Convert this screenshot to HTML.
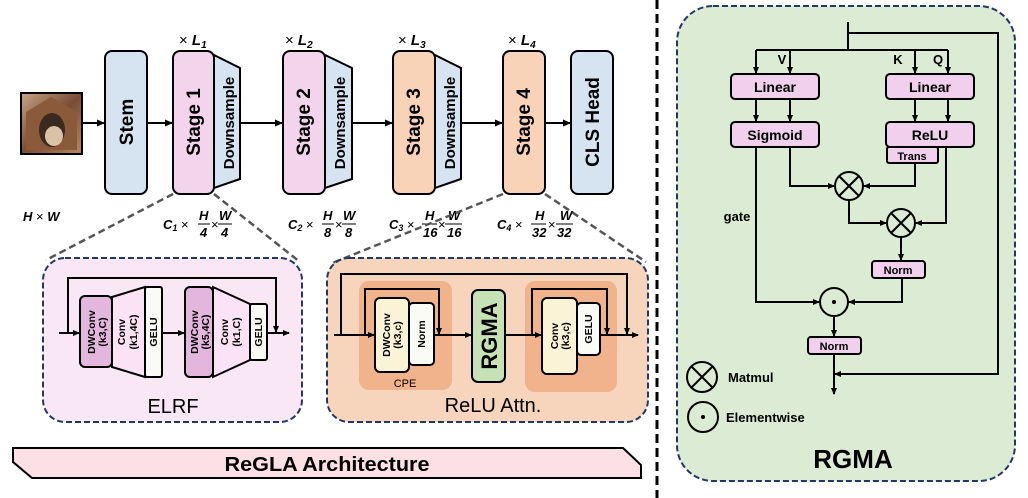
<!DOCTYPE html>
<html><head><meta charset="utf-8"><style>
body{margin:0;background:#fff}
svg{display:block}
text{font-family:"Liberation Sans",sans-serif}
.b{font-weight:bold}
.m{font-family:"Liberation Serif",serif;font-weight:bold;font-style:italic}
</style></head><body>
<svg width="1028" height="498" viewBox="0 0 1028 498" xmlns="http://www.w3.org/2000/svg">
<defs>
<marker id="a" markerWidth="8" markerHeight="8" refX="7" refY="4" orient="auto" markerUnits="userSpaceOnUse">
<path d="M0,0.5 L8,4 L0,7.5 z" fill="#000"/></marker>
<marker id="s" markerWidth="7" markerHeight="7" refX="6" refY="3.5" orient="auto" markerUnits="userSpaceOnUse">
<path d="M0,0.5 L7,3.5 L0,6.5 z" fill="#000"/></marker>
<linearGradient id="img" x1="0" y1="0" x2="1" y2="1">
<stop offset="0" stop-color="#c7a58a"/><stop offset="0.5" stop-color="#7a4c33"/><stop offset="1" stop-color="#b78a5e"/></linearGradient>
</defs>

<line x1="657" y1="0" x2="657" y2="498" stroke="#000" stroke-width="3" stroke-dasharray="9,5"/>

<rect x="21" y="93" width="61" height="61" fill="url(#img)" stroke="#000" stroke-width="2"/>
<path d="M26,112 L51,97 L77,112 L77,150 L26,150 z" fill="#8a5a3a"/>
<ellipse cx="52" cy="130" rx="13" ry="17" fill="#3a2a20"/>
<ellipse cx="54" cy="136" rx="9" ry="10" fill="#d9c2a6"/>

<g stroke="#000" stroke-width="2" fill="none">
<line x1="82" y1="123" x2="104" y2="123" marker-end="url(#a)"/>
<line x1="147" y1="123" x2="172" y2="123" marker-end="url(#a)"/>
<line x1="240" y1="123" x2="282" y2="123" marker-end="url(#a)"/>
<line x1="352" y1="123" x2="392" y2="123" marker-end="url(#a)"/>
<line x1="461" y1="123" x2="502" y2="123" marker-end="url(#a)"/>
<line x1="545" y1="123" x2="570" y2="123" marker-end="url(#a)"/>
</g>

<g stroke="#000" stroke-width="2">
<rect x="105" y="51" width="42" height="143" rx="7" fill="#d6e4f2"/>
<path d="M214,55 L240,68 L240,179 L214,188 z" fill="#d6e4f2"/>
<rect x="173" y="51" width="41" height="143" rx="7" fill="#f2d4ec"/>
<path d="M325,55 L352,68 L352,179 L325,188 z" fill="#d6e4f2"/>
<rect x="283" y="51" width="42" height="143" rx="7" fill="#f2d4ec"/>
<path d="M435,55 L461,68 L461,179 L435,188 z" fill="#d6e4f2"/>
<rect x="393" y="51" width="42" height="143" rx="7" fill="#f8d3b8"/>
<rect x="503" y="51" width="42" height="143" rx="7" fill="#f8d3b8"/>
<rect x="571" y="51" width="42" height="143" rx="7" fill="#d6e4f2"/>
</g>
<g class="b" font-size="19" text-anchor="middle" fill="#000">
<text transform="translate(133,122) rotate(-90)">Stem</text>
<text transform="translate(200,122) rotate(-90)">Stage 1</text>
<text transform="translate(310,122) rotate(-90)">Stage 2</text>
<text transform="translate(420,122) rotate(-90)">Stage 3</text>
<text transform="translate(530,122) rotate(-90)">Stage 4</text>
<text transform="translate(599,122) rotate(-90)">CLS Head</text>
</g>
<g class="b" font-size="15" text-anchor="middle">
<text transform="translate(234,123) rotate(-90)">Downsample</text>
<text transform="translate(345,123) rotate(-90)">Downsample</text>
<text transform="translate(455,123) rotate(-90)">Downsample</text>
</g>
<g class="m" font-size="15" fill="#000">
<text x="179" y="45"><tspan font-style="normal" font-weight="normal">×</tspan> L<tspan font-size="10" dy="3">1</tspan></text>
<text x="285" y="45"><tspan font-style="normal" font-weight="normal">×</tspan> L<tspan font-size="10" dy="3">2</tspan></text>
<text x="398" y="45"><tspan font-style="normal" font-weight="normal">×</tspan> L<tspan font-size="10" dy="3">3</tspan></text>
<text x="508" y="45"><tspan font-style="normal" font-weight="normal">×</tspan> L<tspan font-size="10" dy="3">4</tspan></text>
<text x="23" y="221" font-size="13">H <tspan font-style="normal" font-weight="normal">×</tspan> W</text>
</g>
<g class="m" font-size="13" fill="#000">
<text x="163" y="229">C<tspan font-size="9" dy="2">1</tspan><tspan dy="-2" font-style="normal" font-weight="normal"> × </tspan></text>
<text x="199" y="220">H</text><line x1="198" y1="224" x2="210" y2="224" stroke="#000"/><text x="200" y="237">4</text>
<text x="211" y="229" font-style="normal" font-weight="normal">×</text>
<text x="219" y="220">W</text><line x1="218" y1="224" x2="232" y2="224" stroke="#000"/><text x="221" y="237">4</text>

<text x="288" y="229">C<tspan font-size="9" dy="2">2</tspan><tspan dy="-2" font-style="normal" font-weight="normal"> × </tspan></text>
<text x="323" y="220">H</text><line x1="322" y1="224" x2="334" y2="224" stroke="#000"/><text x="324" y="237">8</text>
<text x="335" y="229" font-style="normal" font-weight="normal">×</text>
<text x="343" y="220">W</text><line x1="342" y1="224" x2="356" y2="224" stroke="#000"/><text x="345" y="237">8</text>

<text x="389" y="229">C<tspan font-size="9" dy="2">3</tspan><tspan dy="-2" font-style="normal" font-weight="normal"> × </tspan></text>
<text x="425" y="220">H</text><line x1="422" y1="224" x2="437" y2="224" stroke="#000"/><text x="423" y="237">16</text>
<text x="438" y="229" font-style="normal" font-weight="normal">×</text>
<text x="448" y="220">W</text><line x1="445" y1="224" x2="462" y2="224" stroke="#000"/><text x="447" y="237">16</text>

<text x="497" y="229">C<tspan font-size="9" dy="2">4</tspan><tspan dy="-2" font-style="normal" font-weight="normal"> × </tspan></text>
<text x="535" y="220">H</text><line x1="531" y1="224" x2="546" y2="224" stroke="#000"/><text x="532" y="237">32</text>
<text x="548" y="229" font-style="normal" font-weight="normal">×</text>
<text x="560" y="220">W</text><line x1="556" y1="224" x2="573" y2="224" stroke="#000"/><text x="557" y="237">32</text>
</g>

<g stroke="#555" stroke-width="2.5" stroke-dasharray="7,4">
<line x1="173" y1="194" x2="46" y2="260"/>
<line x1="214" y1="194" x2="300" y2="262"/>
<line x1="503" y1="194" x2="330" y2="264"/>
<line x1="545" y1="194" x2="646" y2="262"/>
</g>

<rect x="43" y="258" width="259" height="164" rx="22" fill="#f9e7f6" stroke="#1f3864" stroke-width="2" stroke-dasharray="6,3"/>
<g stroke="#000" stroke-width="2" fill="none">
<polyline points="68,333 68,278 276,278 276,332" marker-end="url(#s)"/>
<line x1="59" y1="333" x2="79" y2="333" marker-end="url(#s)"/>
<line x1="162" y1="333" x2="184" y2="333" marker-end="url(#s)"/>
<line x1="267" y1="333" x2="289" y2="333" marker-end="url(#s)"/>
</g>
<g stroke="#000" stroke-width="2">
<path d="M112,297 L145,287 L145,377 L112,367 z" fill="#fbe3f5"/>
<rect x="80" y="296" width="32" height="71" rx="5" fill="#e3b6de"/>
<rect x="145" y="287" width="17" height="90" rx="2" fill="#fbfbf5"/>
<path d="M213,287 L250,304 L250,360 L213,377 z" fill="#fbe3f5"/>
<rect x="185" y="287" width="28" height="90" rx="5" fill="#e3b6de"/>
<rect x="250" y="304" width="17" height="56" rx="2" fill="#fbfbf5"/>
</g>
<g class="b" font-size="10.5" text-anchor="middle">
<text transform="translate(95,332) rotate(-90)">DWConv</text>
<text transform="translate(106,332) rotate(-90)">(k3,C)</text>
<text transform="translate(125,332) rotate(-90)">Conv</text>
<text transform="translate(137,332) rotate(-90)">(k1,4C)</text>
<text transform="translate(157,332) rotate(-90)">GELU</text>
<text transform="translate(198,332) rotate(-90)">DWConv</text>
<text transform="translate(209,332) rotate(-90)">(k5,4C)</text>
<text transform="translate(228,332) rotate(-90)">Conv</text>
<text transform="translate(240,332) rotate(-90)">(k1,C)</text>
<text transform="translate(262,332) rotate(-90)">GELU</text>
</g>
<text x="173" y="413" font-size="20" text-anchor="middle">ELRF</text>

<rect x="327" y="258" width="321" height="164" rx="22" fill="#f7d5bc" stroke="#1f3864" stroke-width="2" stroke-dasharray="6,3"/>
<rect x="359" y="281" width="93" height="109" rx="10" fill="#f1b38c"/>
<rect x="525" y="281" width="92" height="111" rx="10" fill="#f1b38c"/>
<g stroke="#000" stroke-width="2" fill="none">
<polyline points="341,335 341,274 627,274 627,334" marker-end="url(#s)"/>
<polyline points="365,335 365,289 439,289 439,334" marker-end="url(#s)"/>
<polyline points="532,335 532,289 607,289 607,334" marker-end="url(#s)"/>
<line x1="334" y1="335" x2="374" y2="335" marker-end="url(#s)"/>
<line x1="434" y1="335" x2="471" y2="335" marker-end="url(#s)"/>
<line x1="505" y1="335" x2="541" y2="335" marker-end="url(#s)"/>
<line x1="600" y1="335" x2="638" y2="335" marker-end="url(#s)"/>
</g>
<g stroke="#000" stroke-width="2">
<rect x="375" y="298" width="34" height="74" rx="5" fill="#fbf3d5"/>
<rect x="409" y="303" width="25" height="62" rx="4" fill="#fbfbf5"/>
<rect x="472" y="290" width="33" height="92" rx="6" fill="#c6e2b5"/>
<rect x="542" y="298" width="35" height="76" rx="5" fill="#fbf3d5"/>
<rect x="577" y="303" width="23" height="52" rx="4" fill="#fbfbf5"/>
</g>
<g class="b" font-size="10.5" text-anchor="middle">
<text transform="translate(390,335) rotate(-90)">DWConv</text>
<text transform="translate(401,335) rotate(-90)">(k3,c)</text>
<text transform="translate(425,334) rotate(-90)">Norm</text>
<text transform="translate(558,336) rotate(-90)">Conv</text>
<text transform="translate(569,336) rotate(-90)">(k3,c)</text>
<text transform="translate(592,329) rotate(-90)">GELU</text>
</g>
<text class="b" transform="translate(497,336) rotate(-90)" font-size="22" text-anchor="middle">RGMA</text>
<text x="405" y="387" font-size="11" text-anchor="middle">CPE</text>
<text x="493" y="412" font-size="20" text-anchor="middle">ReLU Attn.</text>

<path d="M13,448 L623,448 L641,465 L641,478 L32,478 L13,462 z" fill="#fde0e6" stroke="#000" stroke-width="2"/>
<text x="327" y="471" class="b" font-size="20" text-anchor="middle" textLength="205" lengthAdjust="spacingAndGlyphs">ReGLA  Architecture</text>

<rect x="677" y="6" width="338" height="475" rx="36" fill="#dcebd3" stroke="#1f3864" stroke-width="2" stroke-dasharray="6,3"/>
<g stroke="#000" stroke-width="2" fill="none">
<line x1="848" y1="22" x2="848" y2="50"/>
<polyline points="848,33 998,33 998,374 835,374" marker-end="url(#s)"/>
<line x1="756" y1="50" x2="948" y2="50"/>
<line x1="756" y1="50" x2="756" y2="73" marker-end="url(#s)"/>
<line x1="790" y1="50" x2="790" y2="73" marker-end="url(#s)"/>
<line x1="915" y1="50" x2="915" y2="73" marker-end="url(#s)"/>
<line x1="948" y1="50" x2="948" y2="73" marker-end="url(#s)"/>
<line x1="756" y1="99" x2="756" y2="121" marker-end="url(#s)"/>
<line x1="790" y1="99" x2="790" y2="121" marker-end="url(#s)"/>
<line x1="915" y1="99" x2="915" y2="121" marker-end="url(#s)"/>
<line x1="948" y1="99" x2="948" y2="121" marker-end="url(#s)"/>
<polyline points="790,147 790,186 834,186" marker-end="url(#s)"/>
<polyline points="915,163 915,186 864,186" marker-end="url(#s)"/>
<polyline points="849,200 849,223 886,223" marker-end="url(#s)"/>
<polyline points="946,147 946,223 916,223" marker-end="url(#s)"/>
<line x1="901" y1="237" x2="901" y2="260" marker-end="url(#s)"/>
<polyline points="902,278 902,302 849,302" marker-end="url(#s)"/>
<polyline points="756,147 756,302 819,302" marker-end="url(#s)"/>
<line x1="834" y1="316" x2="834" y2="336" marker-end="url(#s)"/>
<line x1="834" y1="354" x2="834" y2="394" marker-end="url(#s)"/>
<circle cx="849" cy="186" r="14" fill="#dcebd3"/>
<path d="M839,176 L859,196 M859,176 L839,196"/>
<circle cx="901" cy="223" r="14" fill="#dcebd3"/>
<path d="M891,213 L911,233 M911,213 L891,233"/>
<circle cx="834" cy="302" r="14" fill="#dcebd3"/>
<circle cx="702" cy="377" r="15"/>
<path d="M691,366 L713,388 M713,366 L691,388"/>
<circle cx="703" cy="417" r="15"/>
</g>
<circle cx="834" cy="302" r="2" fill="#000"/>
<circle cx="703" cy="417" r="2" fill="#000"/>
<g stroke="#000" stroke-width="2" fill="#f0d0ec">
<rect x="731" y="74" width="88" height="25" rx="4"/>
<rect x="886" y="74" width="88" height="25" rx="4"/>
<rect x="731" y="122" width="88" height="25" rx="4"/>
<rect x="887" y="147" width="51" height="16" rx="2"/>
<rect x="886" y="122" width="88" height="25" rx="4"/>
<rect x="872" y="261" width="53" height="17" rx="3"/>
<rect x="808" y="337" width="53" height="17" rx="3"/>
</g>
<g class="b" text-anchor="middle">
<text x="775" y="92" font-size="14">Linear</text>
<text x="930" y="92" font-size="14">Linear</text>
<text x="775" y="140" font-size="14">Sigmoid</text>
<text x="930" y="140" font-size="14">ReLU</text>
<text x="912" y="160" font-size="11">Trans</text>
<text x="898" y="274" font-size="11">Norm</text>
<text x="834" y="350" font-size="11">Norm</text>
<text x="782" y="64" font-size="13">V</text>
<text x="898" y="64" font-size="13">K</text>
<text x="938" y="64" font-size="13">Q</text>
<text x="737" y="221" font-size="13">gate</text>
<text x="853" y="468" font-size="26">RGMA</text>
</g>
<text x="728" y="382" class="b" font-size="13">Matmul</text>
<text x="726" y="422" class="b" font-size="13">Elementwise</text>
</svg>
</body></html>
